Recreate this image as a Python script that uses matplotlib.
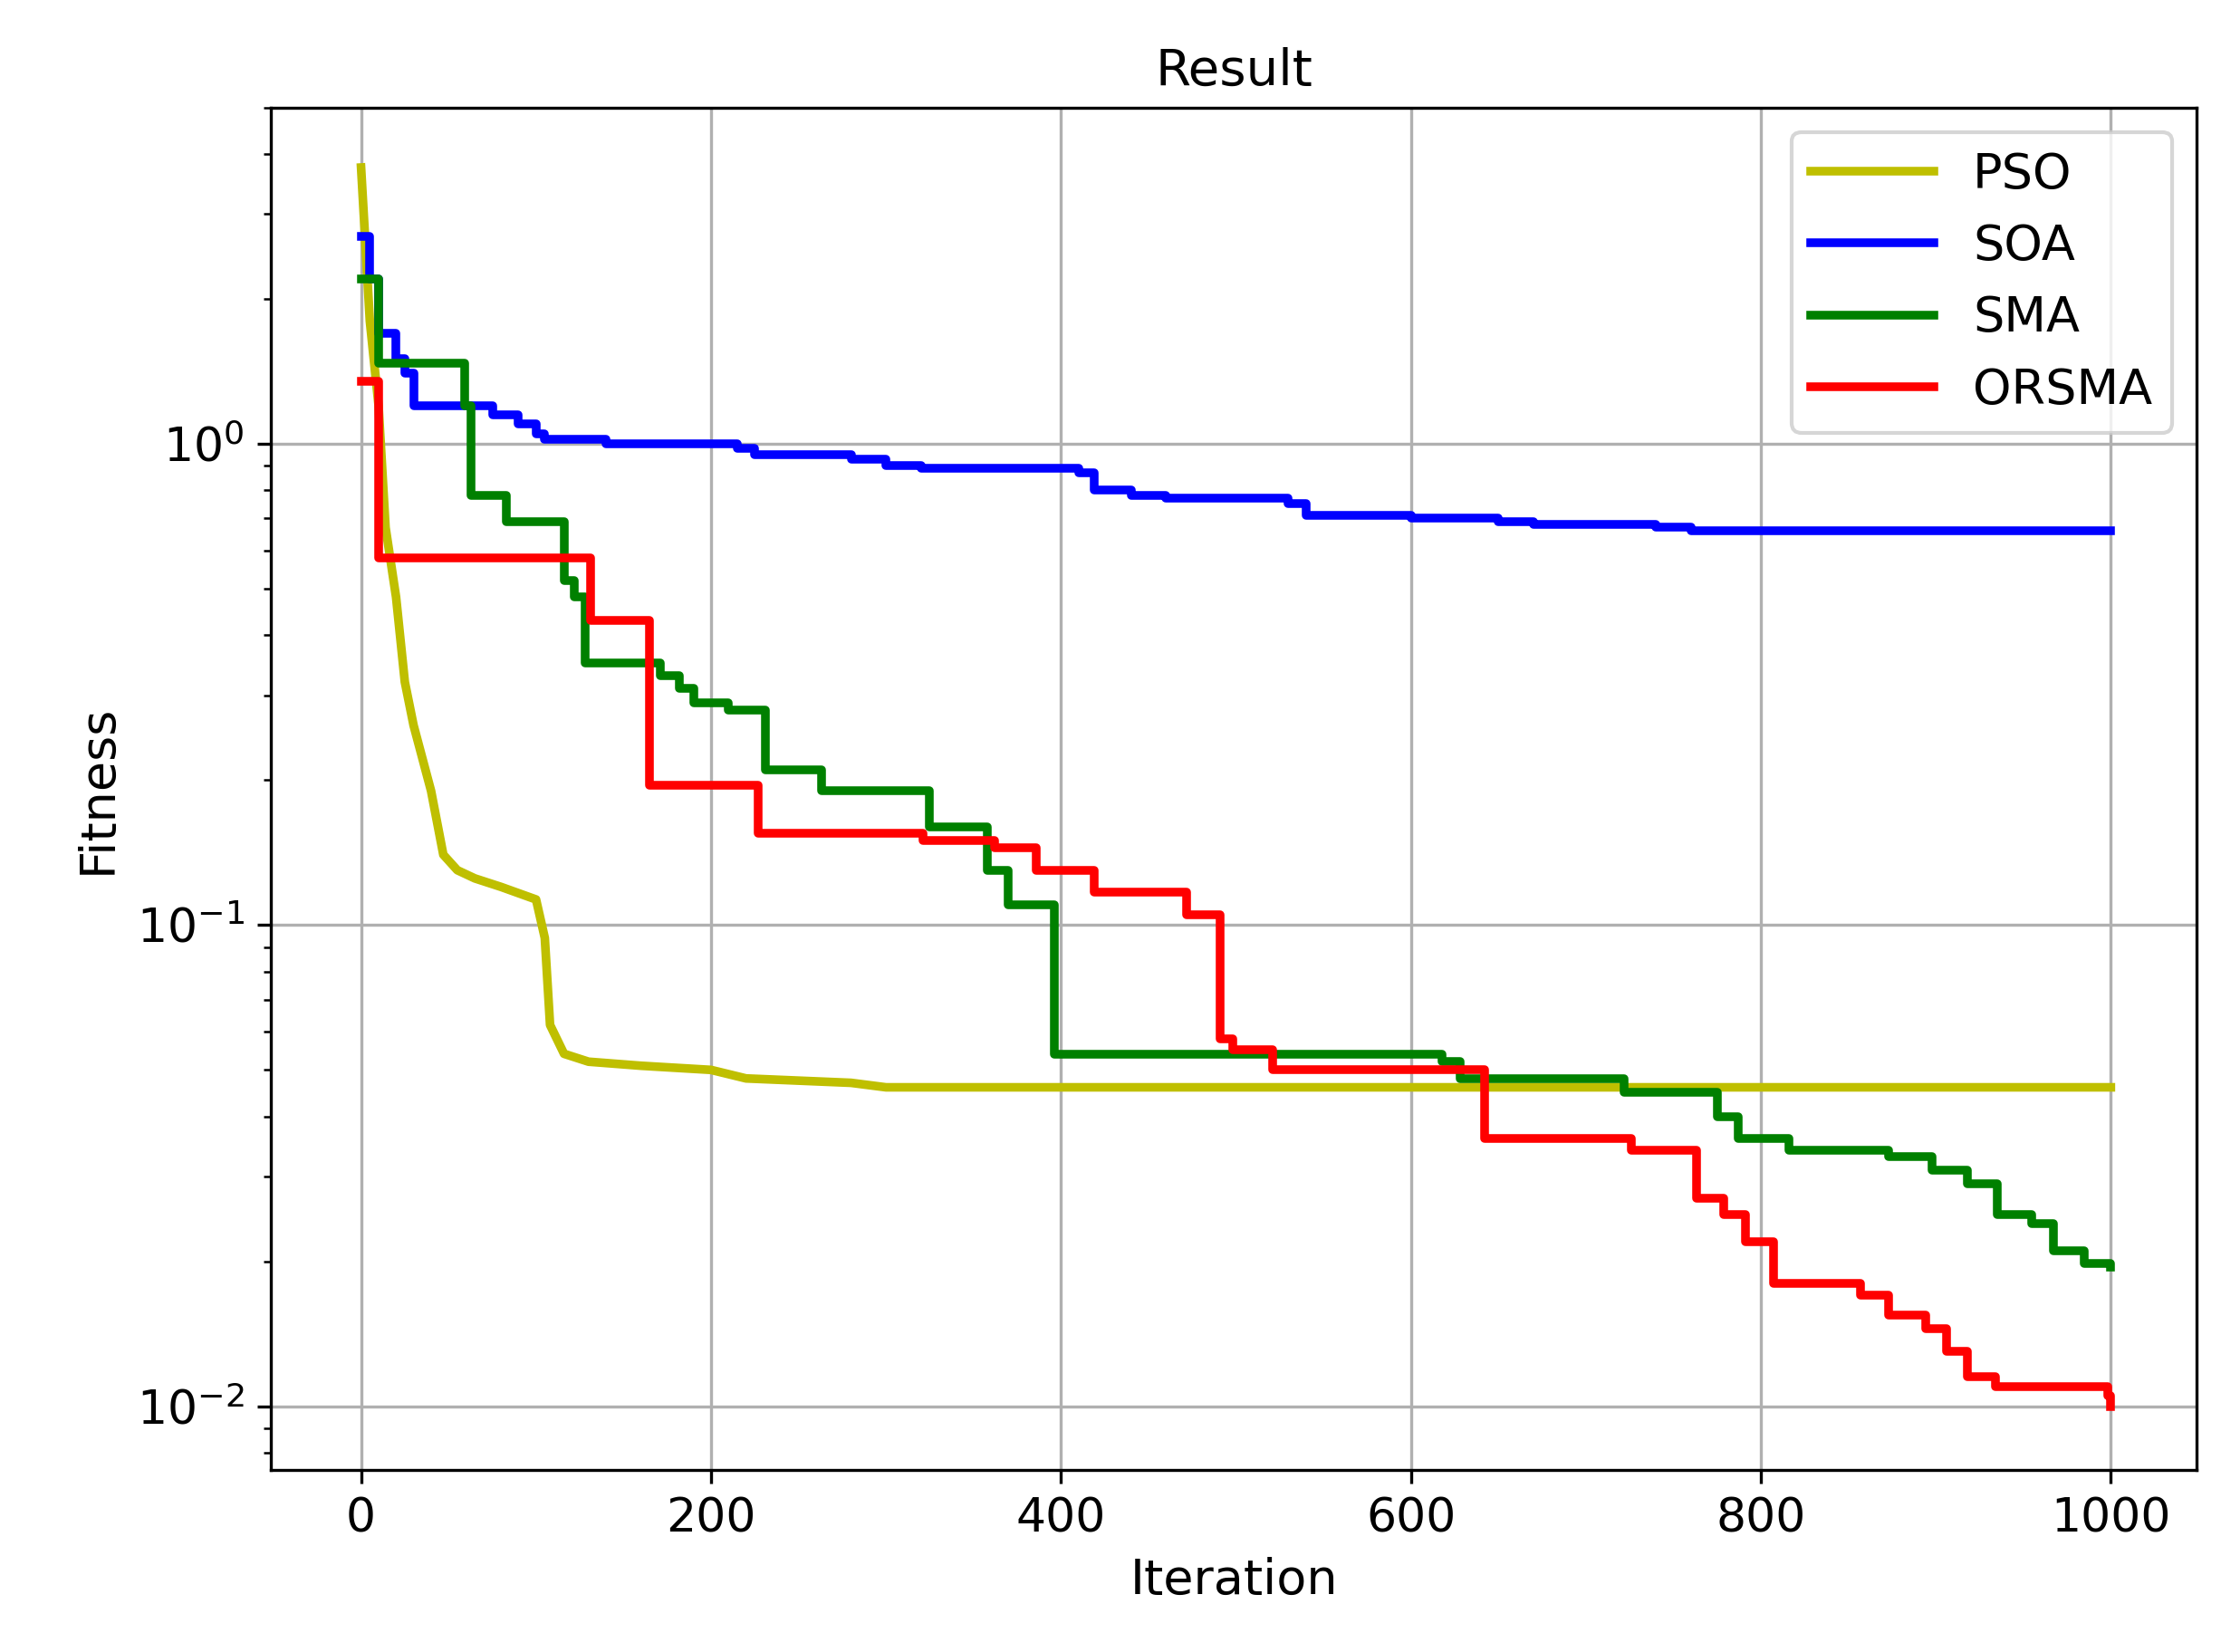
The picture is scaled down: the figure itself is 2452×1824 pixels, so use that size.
import matplotlib
matplotlib.use("Agg")
import matplotlib.pyplot as plt

pso_x = [0, 5, 10, 14, 20, 25, 30, 40, 47, 55, 65, 80, 100, 105, 108, 116, 130, 160, 200, 220, 280, 300, 1000]
pso_y = [3.75, 1.8, 1.2, 0.67, 0.48, 0.32, 0.26, 0.19, 0.14, 0.13, 0.125, 0.12, 0.113, 0.094, 0.062, 0.054, 0.052, 0.051, 0.050, 0.048, 0.047, 0.046, 0.046]

soa_x = [0, 5, 10, 20, 25, 30, 75, 90, 100, 105, 140, 215, 225, 280, 300, 320, 410, 419, 440, 460, 530, 540, 600, 650, 670, 740, 760, 1000]
soa_y = [2.7, 2.2, 1.7, 1.5, 1.4, 1.2, 1.15, 1.1, 1.05, 1.02, 1.0, 0.98, 0.95, 0.93, 0.9, 0.89, 0.87, 0.8, 0.78, 0.77, 0.75, 0.71, 0.70, 0.69, 0.68, 0.67, 0.66, 0.66]

sma_x = [0, 10, 59, 63, 83, 116, 122, 128, 171, 182, 190, 210, 231, 263, 325, 358, 370, 396, 618, 628, 722, 775, 787, 816, 873, 898, 918, 935, 955, 967, 985, 1000]
sma_y = [2.2, 1.47, 1.2, 0.78, 0.69, 0.52, 0.48, 0.35, 0.33, 0.31, 0.29, 0.28, 0.21, 0.19, 0.16, 0.13, 0.11, 0.054, 0.052, 0.048, 0.045, 0.04, 0.036, 0.034, 0.033, 0.031, 0.029, 0.025, 0.024, 0.021, 0.0198, 0.0195]

orsma_x = [0, 10, 131, 165, 227, 321, 362, 386, 419, 472, 491, 498, 521, 642, 726, 763, 779, 791, 807, 857, 873, 894, 906, 918, 934, 998, 1000]
orsma_y = [1.35, 0.58, 0.43, 0.195, 0.155, 0.15, 0.145, 0.13, 0.117, 0.105, 0.058, 0.055, 0.05, 0.036, 0.034, 0.027, 0.025, 0.022, 0.018, 0.017, 0.0155, 0.0145, 0.013, 0.0115, 0.011, 0.0105, 0.01]

fig = plt.figure(figsize=(2452/300, 1824/300), dpi=300)
ax = fig.add_axes([0.122, 0.11, 0.867, 0.825])
lw = 2.3
ax.plot(pso_x, pso_y, color='y', lw=lw, label='PSO')
ax.plot(soa_x, soa_y, color='b', lw=lw, label='SOA', drawstyle='steps-post')
ax.plot(sma_x, sma_y, color='g', lw=lw, label='SMA', drawstyle='steps-post')
ax.plot(orsma_x, orsma_y, color='r', lw=lw, label='ORSMA', drawstyle='steps-post')
ax.set_yscale('log')
ax.set_xlim(-51.5, 1049)
ax.set_ylim(10**-2.133, 5.0)
ax.grid(True)
ax.set_title('Result', fontsize=13.5)
ax.set_xlabel('Iteration', fontsize=13)
ax.set_ylabel('Fitness', fontsize=13)
ax.tick_params(labelsize=12.5)
ax.legend(loc='upper right', fontsize=13, handlelength=2.5)
fig.savefig('out.png', dpi=300)
